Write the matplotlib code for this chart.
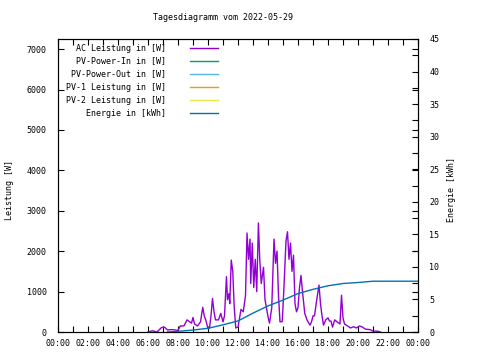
import numpy as np
import matplotlib
matplotlib.use("Agg")
import matplotlib.pyplot as plt
from matplotlib.ticker import MultipleLocator, FuncFormatter

# AC power (hours, W)
t_ac = [6.0, 6.3, 6.6, 6.9, 7.1, 7.3, 7.6, 8.0, 8.15, 8.4, 8.6, 8.75, 8.9, 9.0,
        9.1, 9.3, 9.5, 9.65, 9.75, 9.85, 10.0, 10.1, 10.2, 10.3, 10.4, 10.5,
        10.7, 10.85, 11.0, 11.1, 11.23, 11.3, 11.4, 11.45, 11.55, 11.65, 11.75,
        11.85, 12.0, 12.2, 12.35, 12.5, 12.6, 12.7, 12.8, 12.85, 12.95, 13.05,
        13.15, 13.25, 13.36, 13.45, 13.55, 13.7, 13.8, 14.0, 14.1, 14.25, 14.4,
        14.5, 14.6, 14.7, 14.8, 14.95, 15.05, 15.2, 15.3, 15.4, 15.5, 15.6,
        15.7, 15.8, 15.9, 16.0, 16.1, 16.2, 16.3, 16.45, 16.6, 16.8, 16.9,
        17.0, 17.1, 17.25, 17.4, 17.5, 17.6, 17.7, 17.85, 18.0, 18.1, 18.2,
        18.3, 18.45, 18.6, 18.8, 18.9, 19.0, 19.1, 19.3, 19.5, 19.7, 19.9,
        20.1, 20.3, 20.5, 20.8, 21.0, 21.3, 21.5]
p_ac = [0, 30, 0, 110, 120, 50, 60, 40, 150, 150, 300, 260, 220, 360,
        200, 150, 250, 610, 400, 300, 80, 100, 400, 830, 500, 300,
        300, 460, 250, 400, 1370, 800, 950, 700, 1780, 1500, 600,
        100, 120, 560, 500, 900, 2450, 1800, 2300, 1200, 2200, 1100,
        1800, 1000, 2700, 1800, 1200, 1600, 800, 380, 220, 600, 2300,
        1700, 2000, 900, 250, 260, 1000, 2250, 2480, 1800, 2200, 1500,
        1900, 700, 500, 600, 1100, 1400, 1000, 460, 300, 170, 250,
        400, 400, 800, 1160, 700, 400, 170, 300, 350, 270, 270,
        120, 300, 250, 200, 910, 350, 200, 150, 100, 130, 100,
        150, 120, 70, 60, 20, 20, 0]

# daily energy (hours, kWh)
t_en = [7.3, 8, 9, 10, 11, 12, 13, 14, 15, 16, 17, 18, 19, 20, 21, 22, 24]
e_en = [0.0, 0.1, 0.3, 0.57, 1.1, 1.7, 2.9, 4.0, 4.9, 5.9, 6.55, 7.1, 7.45,
        7.6, 7.8, 7.8, 7.8]

labels = ["AC Leistung in [W]", "PV-Power-In in [W]", "PV-Power-Out in [W]",
          "PV-1 Leistung in [W]", "PV-2 Leistung in [W]", "Energie in [kWh]"]
colors = ["#9400d3", "#009e73", "#56b4e9", "#e69f00", "#f0e442", "#0072b2"]

plt.rcParams["font.family"] = "DejaVu Sans Mono"
plt.rcParams["font.size"] = 6

fig = plt.figure(figsize=(4.8, 3.6), dpi=100)
ax = fig.add_axes([58 / 480, 1 - 332 / 360, 360 / 480, 293 / 360])
ax2 = ax.twinx()

ax.plot(t_ac, p_ac, color=colors[0], lw=1.0)
ax2.plot(t_en, e_en, color=colors[5], lw=1.0)

ax.set_xlim(0, 24)
ax.set_ylim(0, 7250)
ax2.set_ylim(0, 45)

ax.xaxis.set_major_locator(MultipleLocator(2))
ax.xaxis.set_minor_locator(MultipleLocator(1))
ax.xaxis.set_major_formatter(FuncFormatter(lambda v, p: "%02d:00" % (int(v) % 24)))
ax.yaxis.set_major_locator(MultipleLocator(1000))
ax.tick_params(axis="both", which="both", direction="in", length=4, width=0.8,
               top=True, right=True, labelright=False)
ax.tick_params(axis="x", pad=5)
ax.tick_params(axis="y", pad=8)
ax2.yaxis.set_major_locator(MultipleLocator(5))
ax2.yaxis.set_minor_locator(MultipleLocator(2.5))
ax2.tick_params(axis="y", which="both", direction="in", length=4, width=0.8, pad=8)
ax2.yaxis.set_minor_formatter(FuncFormatter(lambda v, p: ""))

for a in (ax, ax2):
    for sp in a.spines.values():
        sp.set_linewidth(0.8)

# legend, gnuplot style
for i, (lab, c) in enumerate(zip(labels, colors)):
    y = 0.969 - i * 0.0444
    ax.text(0.30, y, lab, transform=ax.transAxes, ha="right", va="center")
    ax.plot([0.367, 0.444], [y, y], transform=ax.transAxes, color=c, lw=1.0)

fig.text(223 / 480, 1 - 18 / 360, "Tagesdiagramm vom 2022-05-29",
         ha="center", va="center")
fig.text(10 / 480, 1 - 190 / 360, "Leistung [W]", rotation=90,
         ha="center", va="center")
fig.text(452 / 480, 1 - 190 / 360, "Energie [kWh]", rotation=90,
         ha="center", va="center")

fig.savefig("out.png", dpi=100)
